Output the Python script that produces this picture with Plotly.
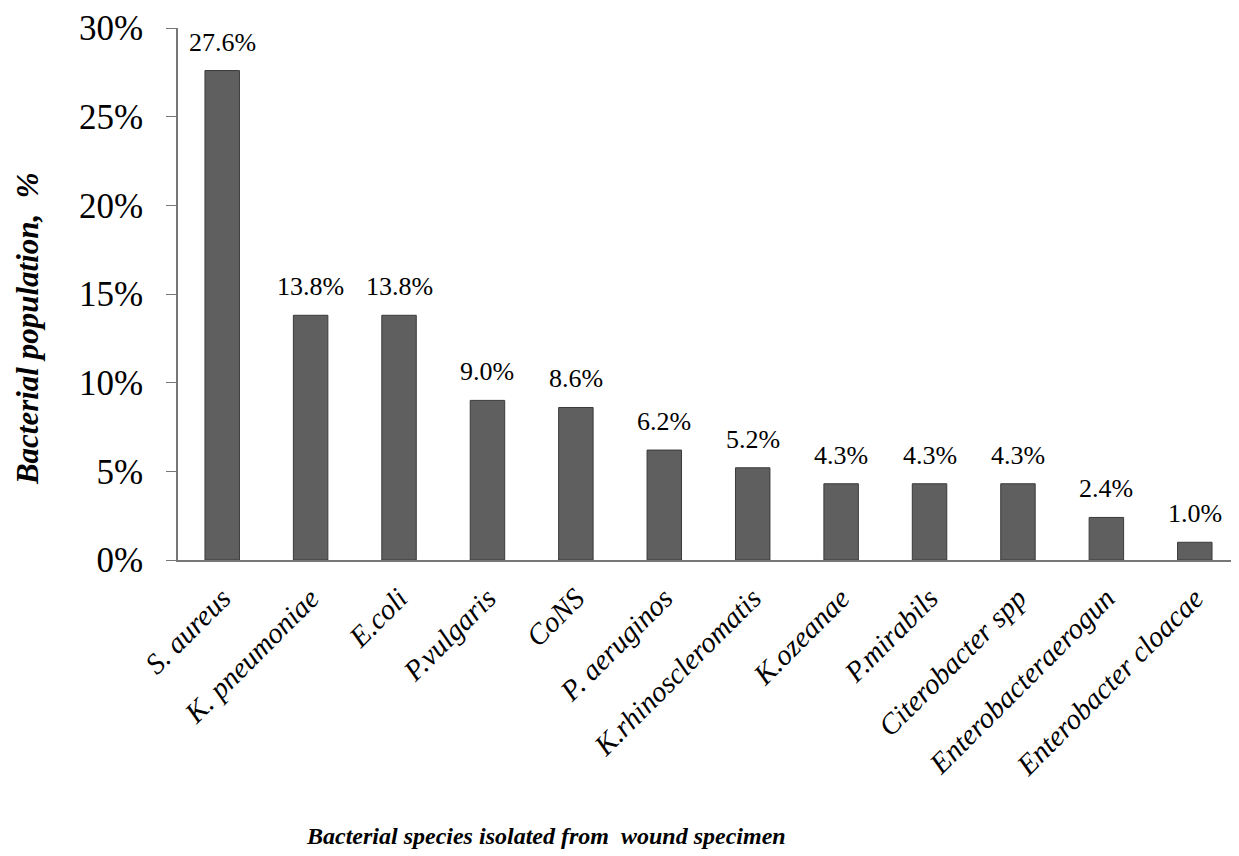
import plotly.graph_objects as go

categories = ["S. aureus", "K. pneumoniae", "E.coli", "P.vulgaris", "CoNS", "P. aeruginos",
              "K.rhinoscleromatis", "K.ozeanae", "P.mirabils", "Citerobacter spp",
              "Enterobacteraerogun", "Enterobacter cloacae"]
values = [27.6, 13.8, 13.8, 9.0, 8.6, 6.2, 5.2, 4.3, 4.3, 4.3, 2.4, 1.0]
labels = ["27.6%", "13.8%", "13.8%", "9.0%", "8.6%", "6.2%", "5.2%", "4.3%", "4.3%", "4.3%", "2.4%", "1.0%"]
yticks = [0, 5, 10, 15, 20, 25, 30]
yticklabels = ["0%", "5%", "10%", "15%", "20%", "25%", "30%"]

serif = "Liberation Serif, Times New Roman, serif"

fig = go.Figure(go.Bar(
    x=categories, y=values,
    marker=dict(color="#5f5f5f", line=dict(color="#3a3a3a", width=1)),
))

for c, v, t in zip(categories, values, labels):
    fig.add_annotation(x=c, y=v, xref="x", yref="y", text=t, showarrow=False,
                       yanchor="bottom", yshift=12,
                       font=dict(family=serif, size=26, color="black"))

fig.add_annotation(x=0, y=0.434, xref="paper", yref="paper", xanchor="center", yanchor="middle",
                   xshift=-151, textangle=-90, showarrow=False,
                   text="<b><i>Bacterial population,  %</i></b>",
                   font=dict(family=serif, size=31, color="black"))
fig.add_annotation(x=0.3465, y=0, xref="paper", yref="paper", xanchor="center", yanchor="middle",
                   yshift=-276, showarrow=False,
                   text="<b><i>Bacterial species isolated from  wound specimen</i></b>",
                   font=dict(family=serif, size=24, color="black"))

fig.update_layout(
    width=1231, height=848,
    margin=dict(l=170, r=0, t=20, b=296),
    plot_bgcolor="white", paper_bgcolor="white",
    bargap=0.61,
    showlegend=False,
    xaxis=dict(
        showline=True, linecolor="#777", linewidth=1.5, ticks="",
        tickangle=-45, tickfont=dict(family=serif, size=29, color="black", style="italic"),
        ticklabelstandoff=8,
    ),
    yaxis=dict(
        range=[0, 30], tickvals=yticks, ticktext=yticklabels,
        showline=True, linecolor="#777", linewidth=1.5, ticks="outside", ticklen=10,
        tickcolor="#777", showgrid=False, zeroline=False,
        tickfont=dict(family=serif, size=35, color="black"),
        ticklabelstandoff=16,
    ),
)

fig.write_html("out.html")
